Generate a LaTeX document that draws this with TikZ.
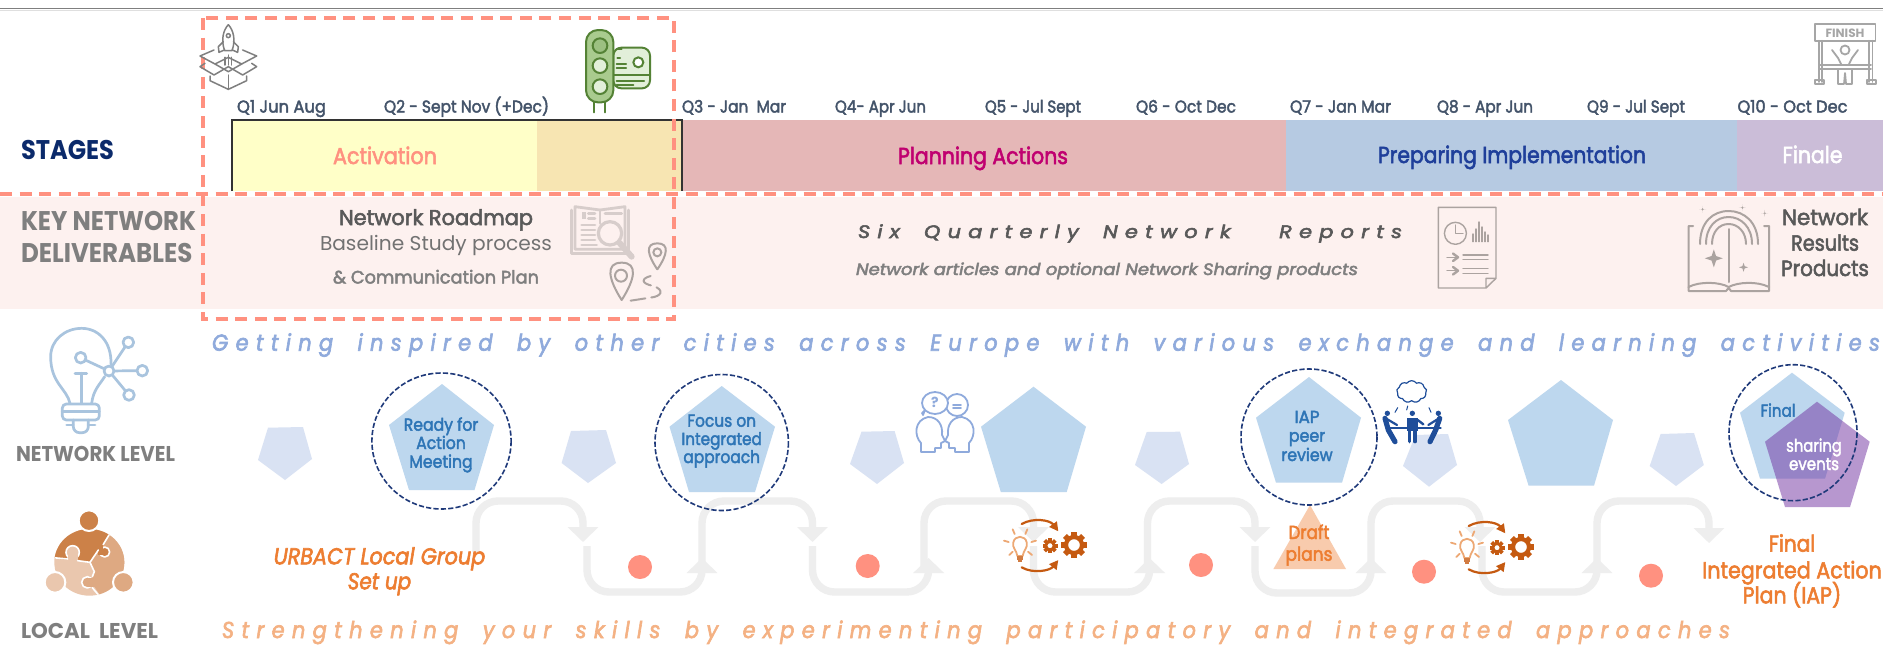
\documentclass[tikz,border=0pt]{standalone}
\usepackage{graphicx}
\usepackage{fontspec}
\setmainfont{Poppins}
\newfontfamily\spreadfam[LetterSpace=35,WordSpace=1.8,FakeBold=2.8]{Poppins}
\usetikzlibrary{arrows.meta,shapes.symbols}
\definecolor{redd}{HTML}{FF9180}
\definecolor{band}{HTML}{FDF1EF}
\definecolor{navy}{HTML}{0B2A6B}
\definecolor{gr}{HTML}{7F7F7F}
\definecolor{dgr}{HTML}{595959}
\definecolor{qcol}{HTML}{44546A}
\definecolor{pblue}{HTML}{BDD7EE}
\definecolor{lblue}{HTML}{D9E2F3}
\definecolor{tblue}{HTML}{2E75B6}
\definecolor{orang}{HTML}{ED7D31}
\definecolor{eln}{HTML}{1F3A7A}
\definecolor{flowc}{HTML}{EEEEEE}
\definecolor{iconb}{HTML}{A9C4DE}
\definecolor{talkb}{HTML}{8FAADC}
\definecolor{teamb}{HTML}{1F4E9A}
\definecolor{rust}{HTML}{C55A11}
\definecolor{gdark}{HTML}{548235}
\definecolor{gmid}{HTML}{A9CB8E}
\definecolor{glight}{HTML}{E2EFD9}
\definecolor{docg}{HTML}{ABA3A0}
\definecolor{bulbo}{HTML}{EDA874}
\definecolor{pzd}{HTML}{CC8148}
\definecolor{pzm}{HTML}{DEA982}
\definecolor{pzl}{HTML}{EAC7AE}
\newlength\fitlen
\newcommand\fitx[2]{\settowidth\fitlen{#2}\pgfmathsetmacro\fitratio{(#1*0.5pt)/\fitlen}\scalebox{\fitratio}[1]{#2}}
\newcommand\tnode[6]{\node[lbl,#2] (#1) at (#3,#4) {\fitx{#5}{#6}};}
% cx, half width, tip y, top y
\newcommand\pinshape[4]{\draw[line width=1pt,draw=docg] (#1,#3) .. controls ({#1-1.1*#2},{#3-0.55*(#3-#4)}) and ({#1-1.4*#2},#4) .. (#1,#4) .. controls ({#1+1.4*#2},#4) and ({#1+1.1*#2},{#3-0.55*(#3-#4)}) .. (#1,#3);}
\newcommand\sparkle[3]{\fill[#3] (#1,{#2-3.5}) .. controls (#1,#2) .. ({#1+3.5},#2) .. controls (#1,#2) .. (#1,{#2+3.5}) .. controls (#1,#2) .. ({#1-3.5},#2) .. controls (#1,#2) .. cycle;}
\newcommand\bigspark[4]{\fill[#4] (#1,{#2-#3}) -- ({#1+0.25*#3},{#2-0.25*#3}) -- ({#1+#3},#2) -- ({#1+0.25*#3},{#2+0.25*#3}) -- (#1,{#2+#3}) -- ({#1-0.25*#3},{#2+0.25*#3}) -- ({#1-#3},#2) -- ({#1-0.25*#3},{#2-0.25*#3}) -- cycle;}
\newcommand\ideasicon{%
 \draw[draw=rust,line width=1.1pt,-{Triangle[width=4.5pt,length=4.5pt]}] (65,42) .. controls (100,22) and (150,30) .. (175,64);
 \draw[draw=rust,line width=1.1pt,-{Triangle[width=4.5pt,length=4.5pt]}] (65,172) .. controls (100,192) and (150,182) .. (175,150);
 \draw[draw=bulbo,line width=0.9pt] (52,138) .. controls (50,120) and (36,115) .. (40,97) .. controls (44,75) and (76,75) .. (80,97) .. controls (84,115) and (70,120) .. (68,138) -- cycle;
 \fill[rust!80] (50,138) rectangle (70,150);
 \fill[rust!80] (54,150) rectangle (66,156);
 \draw[draw=bulbo,line width=0.9pt] (12,92) -- (26,96) (38,58) -- (44,72) (82,58) -- (76,72) (108,92) -- (94,96) (28,135) -- (38,125) (96,135) -- (84,125);
 \draw[draw=rust,line width=1.3pt] (150,107) circle (12);
 \foreach \a in {0,45,...,315} \draw[draw=rust,line width=1.9pt,line cap=butt] (150,107) ++(\a:13) -- ++(\a:9.5);
 \draw[draw=rust,line width=2.1pt] (222,105) circle (24);
 \foreach \a in {0,45,...,315} \draw[draw=rust,line width=2.7pt,line cap=butt] (222,105) ++(\a:27) -- ++(\a:11.5);
}
\tikzset{
 lbl/.style={anchor=base,inner sep=0pt,outer sep=0pt},
 sz/.style={font=\fontsize{#1}{#1}\selectfont},
 szm/.style={font=\fontsize{#1}{#1}\selectfont\addfontfeature{FakeBold=2.5}},
 szb/.style={font=\fontsize{#1}{#1}\selectfont\bfseries},
 szbi/.style={font=\fontsize{#1}{#1}\selectfont\itshape\addfontfeature{FakeBold=2.8}},
 spread/.style={font=\spreadfam\fontsize{#1}{#1}\selectfont\itshape},
 reddash/.style={draw=redd,line width=2pt,dash pattern=on 6pt off 3.8pt},
 elld/.style={draw=eln,line width=0.8pt,dash pattern=on 2.6pt off 1.1pt},
 flow/.style={draw=flowc,line width=3.7pt,rounded corners=11pt,-{Triangle[width=15pt,length=7.5pt]}},
 dot/.style={fill=redd},
 pent/.style={fill=pblue},
 lpent/.style={fill=lblue},
 il/.style={line cap=round,line join=round},
}
\begin{document}
\begin{tikzpicture}[x=0.5pt,y=-0.5pt]
\useasboundingbox (0,0) rectangle (1883,659);
\fill[white] (0,0) rectangle (1883,659);
% top rule
\draw[draw=gr,line width=0.6pt] (0,8.5) -- (1883,8.5);
\draw[draw=gray!25,line width=0.5pt] (0,10) -- (1883,10);
% bands
\fill[band] (0,197) rectangle (1883,309);
\fill[fill={rgb,255:red,255;green,255;blue,200}] (232,120) rectangle (537,191);
\fill[fill={rgb,255:red,247;green,229;blue,178}] (537,120) rectangle (682,191);
\fill[fill={rgb,255:red,229;green,183;blue,183}] (682,120) rectangle (1286,191);
\fill[fill={rgb,255:red,182;green,202;blue,226}] (1286,120) rectangle (1737,191);
\fill[fill={rgb,255:red,203;green,189;blue,216}] (1737,120) rectangle (1883,191);
\draw[draw=black!80,line width=0.8pt] (232,191) -- (232,120) -- (682,120) -- (682,191);
% stage labels
\tnode{stages}{szb=13.5,text=navy}{67.5}{159}{93}{STAGES}
\tnode{keynet}{szb=13.5,text=gr}{108.5}{230}{175}{KEY NETWORK}
\tnode{deliv}{szb=13.5,text=gr}{106.7}{262}{171.4}{DELIVERABLES}
\tnode{q1}{szm=8.5,text=qcol}{281.5}{112.5}{89}{Q1 Jun Aug}
\tnode{q2}{szm=8.5,text=qcol}{466.5}{112.5}{165}{Q2 - Sept Nov (+Dec)}
\tnode{q3}{szm=8.5,text=qcol}{734}{112.5}{104}{Q3 - Jan\ \ Mar}
\tnode{q4}{szm=8.5,text=qcol}{880.5}{112.5}{91}{Q4- Apr Jun}
\tnode{q5}{szm=8.5,text=qcol}{1033}{112.5}{96}{Q5 - Jul Sept}
\tnode{q6}{szm=8.5,text=qcol}{1186}{112.5}{100}{Q6 - Oct Dec}
\tnode{q7}{szm=8.5,text=qcol}{1340.5}{112.5}{101}{Q7 - Jan Mar}
\tnode{q8}{szm=8.5,text=qcol}{1485}{112.5}{96}{Q8 - Apr Jun}
\tnode{q9}{szm=8.5,text=qcol}{1636}{112.5}{98}{Q9 - Jul Sept}
\tnode{q10}{szm=8.5,text=qcol}{1792.5}{112.5}{110}{Q10 - Oct Dec}
\tnode{act}{szm=11.5,text=redd}{385}{164}{104}{Activation}
\tnode{plan}{szm=11.5,text={rgb,255:red,192;green,0;blue,112}}{983}{164}{170}{Planning Actions}
\tnode{prep}{szm=11.5,text={rgb,255:red,31;green,63;blue,154}}{1512}{163}{268}{Preparing Implementation}
\tnode{fin}{szm=11.5,text=white}{1812.5}{163}{60}{Finale}
\tnode{road}{szm=10.7,text=dgr}{436}{225}{194}{Network Roadmap}
\tnode{base}{sz=10,text=dgr!85}{436}{250.5}{232}{Baseline Study process}
\tnode{comm}{szm=9,text=gr}{436}{283.5}{206}{\& Communication\ Plan}
\tnode{six}{spread=9,text=dgr}{1130}{238}{544}{Six Quarterly Network\ \ Reports}
\tnode{arts}{szbi=8.2,text=gr}{1107}{275}{502}{Network articles and optional Network Sharing products}
\tnode{nrp1}{szm=11,text=dgr}{1825}{225}{86}{Network}
\tnode{nrp2}{szm=11,text=dgr}{1825}{250.7}{68}{Results}
\tnode{nrp3}{szm=11,text=dgr}{1825}{276}{87.7}{Products}
% dashed highlight
\draw[reddash] (0,193.7) -- (1883,193.7);
\draw[reddash] (203,18) rectangle (674,319);
% left labels and spread texts
\tnode{getting}{spread=11.5,text=talkb}{1046}{350.7}{1668}{Getting inspired by other cities across Europe with various exchange and learning activities}
\tnode{strength}{spread=11.5,text={rgb,255:red,244;green,177;blue,131}}{976}{638}{1508}{Strengthening your skills by experimenting participatory and integrated approaches}
\tnode{netl}{szb=10.7,text=gr}{95.5}{461.7}{159}{NETWORK LEVEL}
\tnode{locl}{szb=10.7,text=gr}{89.5}{638}{137}{LOCAL\ \ LEVEL}
% flow arrows
\draw[flow] (476,552) -- (476,501) -- (583,501) -- (583,542);
\draw[flow] (587,546) -- (587,592) -- (702,592) -- (702,558);
\draw[flow] (702,569) -- (702,501) -- (812.5,501) -- (812.5,542);
\draw[flow] (812.5,546) -- (812.5,592) -- (928.6,592) -- (928.6,558);
\draw[flow] (924,569) -- (924,501) -- (1033.5,501) -- (1033.5,542);
\draw[flow] (1033.5,546) -- (1033.5,592) -- (1149.6,592) -- (1149.6,558);
\draw[flow] (1147.5,569) -- (1147.5,501) -- (1255,501) -- (1255,542);
\draw[flow] (1255,546) -- (1255,593) -- (1371,593) -- (1371,558);
\draw[flow] (1371,569) -- (1371,501) -- (1480,501) -- (1480,542);
\draw[flow] (1482,546) -- (1482,592) -- (1597,592) -- (1597,558);
\draw[flow] (1597,569) -- (1597,501) -- (1709,501) -- (1709,543);
% light pentagons
\fill[lpent] (258,460) -- (268,427.7) -- (303,427) -- (312,459) -- (285,480) -- cycle;
\fill[lpent] (561.6,463) -- (571,431) -- (606,430) -- (616,463) -- (588,483) -- cycle;
\fill[lpent] (850,464) -- (861.5,431.7) -- (894.6,431) -- (904,463) -- (877,484) -- cycle;
\fill[lpent] (1135,465) -- (1146.7,432) -- (1180,431.7) -- (1189,464) -- (1161.6,484) -- cycle;
\fill[lpent] (1403,466) -- (1415.5,435) -- (1448,434) -- (1457,465) -- (1429,486.7) -- cycle;
\fill[lpent] (1649.7,466) -- (1660.6,434) -- (1694,433) -- (1703.8,465) -- (1676,486) -- cycle;
% big pentagons
\fill[pent] (442,384) -- (494,425) -- (474.5,490) -- (409,490) -- (389,425) -- cycle;
\fill[pent] (721.7,386) -- (775,426.7) -- (755,492) -- (689,492) -- (669.5,426.7) -- cycle;
\fill[pent] (1033.5,386.7) -- (1086,426.7) -- (1066.7,492) -- (1000.8,492) -- (981,426.7) -- cycle;
\fill[pent] (1309,377) -- (1361,417.7) -- (1342,482.7) -- (1276,482.7) -- (1256,417.7) -- cycle;
\fill[pent] (1561,380) -- (1613,420) -- (1594,485.7) -- (1528.6,485.7) -- (1508,420) -- cycle;
\fill[pent] (1792,372.7) -- (1844.7,412.7) -- (1825,478.7) -- (1760,478.7) -- (1740,412.7) -- cycle;
\tnode{finalb}{szm=8.7,text=tblue}{1778}{416.7}{35}{Final}
\fill[fill={rgb,255:red,112;green,48;blue,160},fill opacity=0.5] (1817,401.7) -- (1869.7,441.7) -- (1850,507) -- (1785,507) -- (1765,441.7) -- cycle;
% triangle
\fill[fill={rgb,255:red,248;green,203;blue,173}] (1310,505) -- (1346,569) -- (1273.4,569) -- cycle;
% pentagon texts
\tnode{r1}{szm=8.7,text=tblue}{441}{430.7}{74.5}{Ready for}
\tnode{r2}{szm=8.7,text=tblue}{441}{449}{49.6}{Action}
\tnode{r3}{szm=8.7,text=tblue}{441}{467.7}{63.4}{Meeting}
\tnode{f1}{szm=8.7,text=tblue}{721.7}{426.7}{68.8}{Focus on}
\tnode{f2}{szm=8.7,text=tblue}{721.7}{445}{80.4}{Integrated}
\tnode{f3}{szm=8.7,text=tblue}{721.7}{463}{76.7}{approach}
\tnode{i1}{szm=8.7,text=tblue}{1307}{423}{25}{IAP}
\tnode{i2}{szm=8.7,text=tblue}{1307}{441.7}{36.3}{peer}
\tnode{i3}{szm=8.7,text=tblue}{1307}{461}{51.3}{review}
\tnode{s1}{szm=8.7,text=white}{1814}{451.7}{55.7}{sharing}
\tnode{s2}{szm=8.7,text=white}{1814}{470}{50}{events}
\tnode{d1}{szm=9.5,text=orang}{1309}{539}{41}{Draft}
\tnode{d2}{szm=9.5,text=orang}{1309}{560.7}{47}{plans}
\tnode{u1}{szbi=11.5,text=orang}{379.5}{564.3}{211.6}{URBACT Local Group}
\tnode{u2}{szbi=11.5,text=orang}{379.5}{589.3}{63.4}{Set up}
\tnode{g1}{szm=11.5,text=orang}{1792}{551.7}{46.4}{Final}
\tnode{g2}{szm=11.5,text=orang}{1792}{578.3}{179.6}{Integrated Action}
\tnode{g3}{szm=11.5,text=orang}{1792}{603.3}{98.5}{Plan (IAP)}
% ellipses
\draw[elld] (441.5,441) ellipse (69.6 and 68);
\draw[elld] (721.7,442.5) ellipse (66.7 and 68);
\draw[elld] (1309,437) ellipse (68 and 68);
\draw[elld] (1793,432.7) ellipse (64 and 68);
% dots
\foreach \px/\py in {640/567,867.7/566,1201/565,1424/571.7,1651/575.7}
  \fill[dot] (\px,\py) ellipse (12 and 12);
% ---------- rocket icon
\begin{scope}[shift={(190,20)},scale=1/3,il,draw=gr,line width=0.75pt]
 \draw (115,14) .. controls (100,30) and (92,60) .. (104,92) -- (126,92) .. controls (138,60) and (130,30) .. (115,14);
 \draw (115,47) circle (6);
 \draw (100,65) -- (85,80) -- (87,97) -- (103,90);
 \draw (130,65) -- (145,80) -- (143,97) -- (127,90);
 \draw (105,112) -- (105,135) (115,105) -- (115,135) (125,112) -- (125,135);
 \draw (72,90) -- (30,108) -- (75,132) -- (115,112) -- (155,132) -- (200,108) -- (158,90);
 \draw (75,132) -- (115,155) -- (155,132);
 \draw (45,130) -- (30,140) -- (72,165) -- (115,140) -- (158,165) -- (200,140) -- (185,130);
 \draw (60,168) -- (60,182) -- (115,208) -- (170,182) -- (170,168);
 \draw (115,208) -- (115,165);
\end{scope}
% ---------- traffic light icon
\begin{scope}[shift={(570,25)},scale=1/3,il,draw=gdark,line width=1pt]
 \draw (72,232) -- (72,262) (105,232) -- (105,262);
 \draw[fill=glight,rounded corners=4pt] (130,68) rectangle (240,190);
 \draw (130,150) -- (240,150);
 \draw[fill=white] (205,112) circle (15);
 \draw (140,72) -- (155,72) (142,100) -- (150,100) (140,118) -- (168,118) (140,130) -- (168,130);
 \draw (140,167) -- (222,167) (140,180) -- (190,180);
 \draw[fill=gmid,rounded corners=6pt] (48,15) rectangle (130,232);
 \draw[fill=gmid!85!gdark] (90,62) circle (22);
 \draw[fill=glight] (90,122) circle (22);
 \draw[fill=glight] (90,185) circle (22);
\end{scope}
% ---------- finish icon
\begin{scope}[il,draw=gray!70,line width=0.9pt]
 \draw (1815,24) rectangle (1875.5,40.7);
 \node[lbl,szb=6,text=gray!70] (finishlbl) at (1845,37) {\fitx{39}{FINISH}};
 \draw (1818.6,40.7) -- (1818.6,82) (1822,40.7) -- (1822,82) (1869,40.7) -- (1869,82) (1872.5,40.7) -- (1872.5,82);
 \draw (1820,65) -- (1871,65) (1820,69) -- (1871,69);
 \draw (1815,84) rectangle (1824,80) (1867,84) rectangle (1876,80);
 \draw (1845,50) circle (4.5);
 \draw (1832,50) -- (1838,58) -- (1841,64) (1858,50) -- (1852,58) -- (1849,64);
 \draw (1838,69) -- (1838,84) -- (1844,84) -- (1845,73) -- (1846,84) -- (1852,84) -- (1852,69);
\end{scope}
% ---------- book and pins
\begin{scope}[shift={(560,200)},scale=1/3,il]
 \begin{scope}[draw=black!15!band,line width=1.4pt]
  \draw (35,30) -- (35,160) -- (205,160) -- (205,30);
  \draw (45,20) -- (120,30) -- (195,20) -- (195,148) -- (45,148) -- cycle;
  \draw (120,30) -- (120,70);
  \draw (85,40) -- (105,40) (85,55) -- (105,55) (65,75) -- (105,75) (65,90) -- (105,90) (65,105) -- (105,105) (65,120) -- (105,120) (65,135) -- (110,135) (135,40) -- (185,40);
  \fill[black!15!band] (65,35) rectangle (78,58);
  \draw[fill=band,line width=1.6pt] (150,100) circle (35);
  \draw[line width=3pt] (178,128) -- (215,170);
 \end{scope}
 \pinshape{292}{27}{208}{130}
 \draw[draw=docg,line width=1pt] (292,157) circle (12);
 \pinshape{185}{36}{300}{188}
 \draw[draw=docg,line width=1pt] (183,227) circle (18);
 \draw[draw=docg,line width=1pt,dash pattern=on 9pt off 3pt] (272,228) .. controls (245,235) and (240,250) .. (280,258) .. controls (315,270) and (305,290) .. (270,293) -- (212,302);
\end{scope}
% ---------- report doc
\begin{scope}[il,draw=docg,line width=0.7pt]
 \draw (1496,278.3) -- (1496,207.3) -- (1438.3,207.3) -- (1438.3,288) -- (1486,288) -- (1496,278.3) -- (1486,278.3) -- (1486,288);
 \draw (1455.4,233.3) circle (11);
 \draw (1455.4,225) -- (1455.4,233.3) -- (1463,233.3);
 \foreach \bx/\bt in {1473/234,1476/229,1479/222,1482/227,1485/232,1488/235} \draw (\bx,241.7) -- (\bx,\bt);
 \draw (1447,257.3) -- (1456,257.3) (1447,270.7) -- (1456,270.7);
 \draw[line width=1.2pt] (1453,253.5) -- (1458,257.3) -- (1453,261) (1453,267) -- (1458,270.7) -- (1453,274.5);
 \draw (1463,255) -- (1488,255) (1463,259.3) -- (1488,259.3) (1463,268.3) -- (1488,268.3) (1463,273.3) -- (1488,273.3);
\end{scope}
% ---------- magic book
\begin{scope}[il,draw=docg,line width=1pt]
 \draw (1693,226) -- (1688.5,226) -- (1688.5,287) .. controls (1700,281) and (1720,282) .. (1728.6,287) .. controls (1738,282) and (1757,281) .. (1769,287) -- (1769,226) -- (1764,226);
 \draw (1688.5,287) -- (1688.5,291) -- (1726,291) -- (1728.6,288) -- (1731,291) -- (1769,291) -- (1769,287);
 \draw (1728.6,229) -- (1728.6,282);
 \draw (1700,244) .. controls (1700,222) and (1713,211) .. (1728.6,211) .. controls (1744,211) and (1758,222) .. (1758,244);
 \draw (1706,244) .. controls (1706,227) and (1716,217) .. (1728.6,217) .. controls (1741,217) and (1752,227) .. (1752,244);
 \draw (1712,244) .. controls (1712,232) and (1719,224) .. (1728.6,224) .. controls (1738,224) and (1746,232) .. (1746,244);
 \bigspark{1713.8}{258.3}{9}{docg}
 \bigspark{1743.5}{267.3}{4.5}{docg}
 \sparkle{1702.6}{209.3}{docg}
 \sparkle{1742.4}{207.7}{docg}
 \sparkle{1764.7}{213.3}{docg}
\end{scope}
% ---------- bulb network
\begin{scope}[shift={(30,325)},scale=1/3,il,draw=iconb,line width=1.35pt]
 \draw (120,235) .. controls (110,190) and (62,175) .. (62,95) .. controls (62,45) and (105,10) .. (155,10) .. controls (205,10) and (245,50) .. (243,118);
 \draw (185,235) .. controls (190,195) and (208,180) .. (224,155);
 \draw[rounded corners=2pt] (97,237) rectangle (208,285);
 \draw (97,260) -- (208,260);
 \draw (110,300) -- (130,300) (175,300) -- (195,300);
 \draw[rounded corners=3pt] (130,285) -- (130,323) -- (175,323) -- (175,285);
 \draw (155,145) -- (155,235) (135,145) -- (170,145);
 \draw (237,138) -- (166,105) (237,138) -- (285,66) (237,138) -- (321,137) (237,138) -- (286,197);
 \draw[fill=white] (237,138) circle (15);
 \draw[fill=white] (152,98) circle (16);
 \draw[fill=white] (295,52) circle (16);
 \draw[fill=white] (337,137) circle (16);
 \draw[fill=white] (297,210) circle (16);
\end{scope}
% ---------- puzzle people
\begin{scope}[shift={(35,505)},scale=1/3,il]
 \begin{scope}
  \clip (163,172) ellipse (105 and 100);
  \fill[pzl] (40,60) rectangle (290,290);
  \fill[pzm] (225,85) -- (200,128) -- (165,170) -- (178,200) -- (165,225) -- (205,285) -- (290,285) -- (290,85) -- cycle;
  \draw[white,line width=0.8pt,fill=pzm] (157,232) circle (17);
  \fill[pzm] (160,218) rectangle (182,246);
  \fill[pzd] (40,158) -- (165,172) -- (225,85) -- (225,50) -- (40,50) -- cycle;
  \draw[white,line width=0.8pt,fill=pzl] (113,142) circle (20);
  \fill[pzl] (100,150) rectangle (128,175);
  \draw[white,line width=0.8pt,fill=pzd] (209,141) circle (15);
  \fill[pzd] (190,120) rectangle (203,150);
  \draw[white,line width=0.8pt] (55,158) -- (98,162) (128,167) -- (165,172) -- (190,135) (225,85) -- (205,118);
  \draw[white,line width=0.8pt] (165,172) -- (178,200) -- (172,215) (172,248) -- (203,285);
 \end{scope}
 \fill[pzl,draw=white,line width=1pt] (60,232) circle (31);
 \fill[pzm,draw=white,line width=1pt] (265,232) circle (31);
 \fill[pzd,draw=white,line width=1pt] (162,47) circle (31);
\end{scope}
% ---------- talking heads
\begin{scope}[il,draw=talkb,line width=0.9pt]
 \draw (921,452) -- (921,443) .. controls (914,436) and (914,420) .. (928,417) .. controls (938,417) and (943,425) .. (942,435) -- (945,441) -- (941,443) -- (941,448) -- (935,448) -- (935,452) -- cycle;
 \draw (969,452) -- (969,443) .. controls (976,436) and (976,420) .. (962,417) .. controls (952,417) and (947,425) .. (948,435) -- (945,441) -- (949,443) -- (949,448) -- (955,448) -- (955,452) -- cycle;
 \draw[fill=white] (957,405) ellipse (11 and 11);
 \draw (953,405) -- (961,405) (953,408) -- (961,408);
 \draw[fill=white] (922,413) -- (925,410) -- (923,415) -- cycle;
 \draw[fill=white] (935,403) ellipse (13 and 11);
 \node[lbl,szb=7,text=talkb] (qmark) at (935,407.5) {?};
\end{scope}
% ---------- team
\begin{scope}[shift={(1375,375)},scale=1/3,il]
 \node[cloud,draw=teamb,line width=0.6pt,cloud puffs=9,cloud puff arc=110,aspect=1.5,minimum width=15pt,minimum height=11pt,inner sep=0pt,fill=white] (thought) at (110,50) {};
 \begin{scope}[draw=teamb,fill=teamb]
  \fill[teamb] (37,115) circle (8) (112,115) circle (8) (190,115) circle (8);
  \draw[line width=2.6pt] (30,130) -- (40,165) -- (60,200);
  \draw[line width=1.1pt] (32,130) -- (66,150);
  \draw[line width=2.6pt] (194,130) -- (182,165) -- (165,200);
  \draw[line width=1.1pt] (192,130) -- (160,150);
  \fill[teamb] (95,130) rectangle (130,168);
  \draw[line width=1.6pt] (104,165) -- (104,200) (120,165) -- (120,200);
  \draw[line width=1.2pt] (128,135) -- (145,148);
  \draw[line width=1.1pt] (38,160) -- (197,160);
  \draw[line width=0.5pt] (60,112) -- (68,98) (95,105) -- (98,93) (168,112) -- (162,98) ;
 \end{scope}
\end{scope}
% ---------- ideas icons
\begin{scope}[shift={(1000,510)},scale=1/3,il]
 \ideasicon
\end{scope}
\begin{scope}[shift={(1447,512)},scale=1/3,il]
 \ideasicon
\end{scope}
\end{tikzpicture}
\end{document}
